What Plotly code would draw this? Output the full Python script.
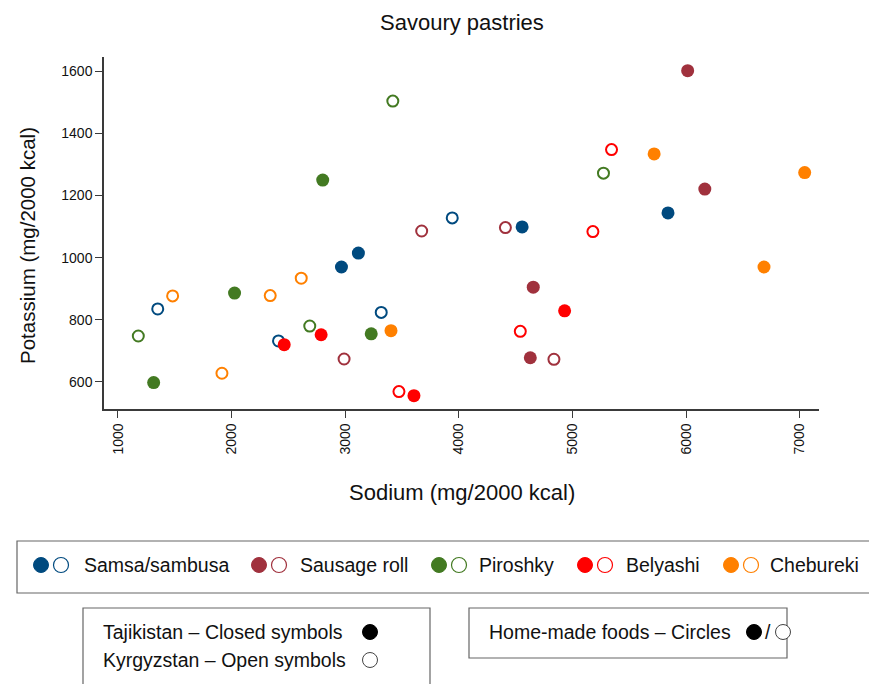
import plotly.graph_objects as go

# ---------------- data (Sodium mg/2000 kcal, Potassium mg/2000 kcal) ----------------
foods = ["Samsa/sambusa", "Sausage roll", "Piroshky", "Belyashi", "Chebureki"]
colors = ["#004a7f", "#a0313d", "#437a22", "#ff0000", "#ff8000"]

# Tajikistan (closed symbols)
samsa_tj_na = [2967, 3116, 4557, 5841]
samsa_tj_k = [970, 1015, 1099, 1144]
sausage_tj_na = [6014, 6165, 4655, 4629]
sausage_tj_k = [1602, 1221, 905, 678]
piroshky_tj_na = [2802, 2026, 1314, 3229]
piroshky_tj_k = [1250, 886, 598, 755]
belyashi_tj_na = [2463, 2788, 3605, 4931]
belyashi_tj_k = [720, 752, 556, 829]
chebureki_tj_na = [5719, 7044, 6686, 3403]
chebureki_tj_k = [1334, 1274, 970, 765]

# Kyrgyzstan (open symbols)
samsa_kg_na = [1350, 3317, 3942, 2413]
samsa_kg_k = [835, 824, 1128, 732]
sausage_kg_na = [3673, 4410, 2990, 4837]
sausage_kg_k = [1086, 1097, 674, 673]
piroshky_kg_na = [3419, 1179, 2688, 5273]
piroshky_kg_k = [1504, 748, 780, 1272]
belyashi_kg_na = [3473, 4541, 5344, 5180]
belyashi_kg_k = [569, 763, 1348, 1084]
chebureki_kg_na = [1481, 2340, 2613, 1915]
chebureki_kg_k = [877, 878, 934, 628]

x_ticks = [1000, 2000, 3000, 4000, 5000, 6000, 7000]
y_ticks = [600, 800, 1000, 1200, 1400, 1600]

tj = [(samsa_tj_na, samsa_tj_k), (sausage_tj_na, sausage_tj_k), (piroshky_tj_na, piroshky_tj_k),
      (belyashi_tj_na, belyashi_tj_k), (chebureki_tj_na, chebureki_tj_k)]
kg = [(samsa_kg_na, samsa_kg_k), (sausage_kg_na, sausage_kg_k), (piroshky_kg_na, piroshky_kg_k),
      (belyashi_kg_na, belyashi_kg_k), (chebureki_kg_na, chebureki_kg_k)]

W, H = 869, 684
FONT = "Liberation Sans, Arial, Helvetica, sans-serif"


def px(x):
    return x / W


def py(y):
    return 1 - y / H


fig = go.Figure()
for i, food in enumerate(foods):
    fig.add_trace(go.Scatter(
        x=kg[i][0], y=kg[i][1], mode="markers", name=food + " (Kyrgyzstan)",
        marker=dict(symbol="circle-open", size=11, color=colors[i], line=dict(width=2, color=colors[i])),
        showlegend=False, hoverinfo="x+y+name"))
    fig.add_trace(go.Scatter(
        x=tj[i][0], y=tj[i][1], mode="markers", name=food + " (Tajikistan)",
        marker=dict(symbol="circle", size=13, color=colors[i], line=dict(width=0)),
        showlegend=False, hoverinfo="x+y+name"))

axis_common = dict(
    showgrid=False, zeroline=False, showline=True, linecolor="#3a3a3a", linewidth=1.5,
    ticks="outside", ticklen=7, tickwidth=1.3, tickcolor="#3a3a3a",
    tickfont=dict(family=FONT, size=14, color="#111"), mirror=False,
)

fig.update_layout(
    width=W, height=H,
    margin=dict(l=0, r=0, t=0, b=0),
    paper_bgcolor="white", plot_bgcolor="white",
    font=dict(family=FONT, color="#111"),
    xaxis=dict(axis_common, domain=[px(104), px(819)], range=[877, 7170],
               tickvals=x_ticks, ticktext=[str(v) for v in x_ticks], tickangle=-90),
    yaxis=dict(axis_common, domain=[py(409), py(57)], range=[513, 1646],
               tickvals=y_ticks, ticktext=[str(v) for v in y_ticks]),
    showlegend=False,
)

annotations = []
shapes = []

# title and axis titles
annotations.append(dict(text="Savoury pastries", x=px(462), y=py(22), xref="paper", yref="paper",
                        showarrow=False, font=dict(family=FONT, size=22, color="#111"),
                        xanchor="center", yanchor="middle"))
annotations.append(dict(text="Sodium (mg/2000 kcal)", x=px(462), y=py(492), xref="paper", yref="paper",
                        showarrow=False, font=dict(family=FONT, size=22, color="#111"),
                        xanchor="center", yanchor="middle"))
annotations.append(dict(text="Potassium (mg/2000 kcal)", x=px(27), y=py(246), xref="paper", yref="paper",
                        showarrow=False, textangle=-90, font=dict(family=FONT, size=20.5, color="#111"),
                        xanchor="center", yanchor="middle"))

LEG_FONT = dict(family=FONT, size=19.5, color="#111")

# legend box 1
shapes.append(dict(type="rect", xref="paper", yref="paper", x0=px(17), x1=px(880), y0=py(593), y1=py(541),
                   line=dict(color="#666", width=1.2), fillcolor="rgba(0,0,0,0)"))
closed_x = [41, 259, 439, 585, 731]
text_x = [82, 298, 477, 624, 768]
LY = 565
R = 7.5
for i, food in enumerate(foods):
    cx = closed_x[i]
    shapes.append(dict(type="circle", xref="paper", yref="paper", xsizemode="pixel", ysizemode="pixel",
                       xanchor=px(cx), yanchor=py(LY), x0=-R, x1=R, y0=-R, y1=R,
                       fillcolor=colors[i], line=dict(color=colors[i], width=1)))
    shapes.append(dict(type="circle", xref="paper", yref="paper", xsizemode="pixel", ysizemode="pixel",
                       xanchor=px(cx + 20), yanchor=py(LY), x0=-R, x1=R, y0=-R, y1=R,
                       fillcolor="white", line=dict(color=colors[i], width=1.2)))
    annotations.append(dict(text=food, x=px(text_x[i]), y=py(LY), xref="paper", yref="paper",
                            showarrow=False, xanchor="left", yanchor="middle", font=LEG_FONT))

# legend box 2 (countries)
shapes.append(dict(type="rect", xref="paper", yref="paper", x0=px(83), x1=px(430), y0=py(700), y1=py(608),
                   line=dict(color="#666", width=1.2), fillcolor="rgba(0,0,0,0)"))
annotations.append(dict(text="Tajikistan – Closed symbols", x=px(101), y=py(632), xref="paper", yref="paper",
                        showarrow=False, xanchor="left", yanchor="middle", font=LEG_FONT))
annotations.append(dict(text="Kyrgyzstan – Open symbols", x=px(101), y=py(660), xref="paper", yref="paper",
                        showarrow=False, xanchor="left", yanchor="middle", font=LEG_FONT))
shapes.append(dict(type="circle", xref="paper", yref="paper", xsizemode="pixel", ysizemode="pixel",
                   xanchor=px(370), yanchor=py(632), x0=-R, x1=R, y0=-R, y1=R,
                   fillcolor="black", line=dict(color="black", width=1)))
shapes.append(dict(type="circle", xref="paper", yref="paper", xsizemode="pixel", ysizemode="pixel",
                   xanchor=px(370), yanchor=py(660), x0=-R, x1=R, y0=-R, y1=R,
                   fillcolor="white", line=dict(color="#444", width=1)))

# legend box 3 (home-made)
shapes.append(dict(type="rect", xref="paper", yref="paper", x0=px(469), x1=px(787), y0=py(658), y1=py(608),
                   line=dict(color="#666", width=1.2), fillcolor="rgba(0,0,0,0)"))
annotations.append(dict(text="Home-made foods – Circles", x=px(487), y=py(632), xref="paper", yref="paper",
                        showarrow=False, xanchor="left", yanchor="middle", font=LEG_FONT))
shapes.append(dict(type="circle", xref="paper", yref="paper", xsizemode="pixel", ysizemode="pixel",
                   xanchor=px(754), yanchor=py(632), x0=-R, x1=R, y0=-R, y1=R,
                   fillcolor="black", line=dict(color="black", width=1)))
annotations.append(dict(text="/", x=px(768), y=py(632), xref="paper", yref="paper",
                        showarrow=False, xanchor="center", yanchor="middle", font=LEG_FONT))
shapes.append(dict(type="circle", xref="paper", yref="paper", xsizemode="pixel", ysizemode="pixel",
                   xanchor=px(783), yanchor=py(632), x0=-R, x1=R, y0=-R, y1=R,
                   fillcolor="white", line=dict(color="#444", width=1)))

fig.update_layout(annotations=annotations, shapes=shapes)
fig.write_html("out.html", config={"displayModeBar": False},
               post_script="document.body.style.margin='0';")
